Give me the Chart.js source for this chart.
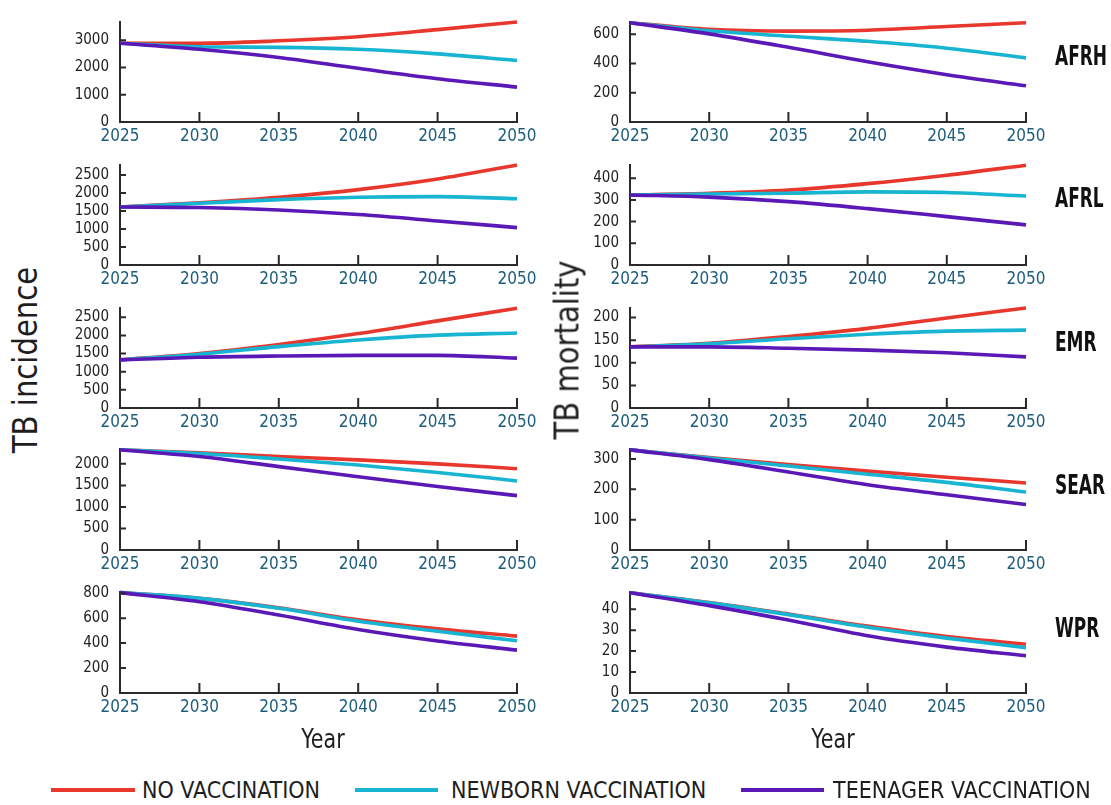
<!DOCTYPE html>
<html>
<head>
<meta charset="utf-8">
<script src="https://cdn.jsdelivr.net/npm/chart.js@4.4.1/dist/chart.umd.min.js"></script>
<style>
  body { margin: 0; background: #fff; width: 1111px; height: 805px; position: relative; overflow: hidden;
         font-family: 'DejaVu Sans Condensed', 'DejaVu Sans', sans-serif; color: #1e1e1e; }
  canvas { position: absolute; }
  .txt { position: absolute; white-space: nowrap; line-height: 1; }
  .region { font-weight: bold; font-size: 27px; color: #111; transform-origin: 0 50%; transform: translateY(-50%) scaleX(0.7); }
  .axis-title { font-size: 33px; color: #1e1e1e; }
  .rot { transform: translate(-50%, -50%) rotate(-90deg) scaleX(0.98); }
  .year { font-size: 27px; transform: translate(-50%, -50%) scaleX(0.85); }
  .leg-line { position: absolute; height: 4px; }
  .leg-text { font-size: 23px; transform: translateY(-50%); color: #1e1e1e; }
</style>
</head>
<body>
<script>
// years on the x axis
var years = [2025, 2030, 2035, 2040, 2045, 2050];
var scenarios = ["NO VACCINATION", "NEWBORN VACCINATION", "TEENAGER VACCINATION"];
var colors = ["#e8372c", "#17b5d1", "#5a18b6"];
var regions = ["AFRH", "AFRL", "EMR", "SEAR", "WPR"];

// TB incidence (per region: no vacc, newborn, teenager)
var incAFRH = [[2890, 2890, 2980, 3130, 3390, 3670], [2890, 2760, 2740, 2670, 2500, 2260], [2890, 2670, 2370, 1970, 1590, 1280]];
var incAFRL = [[1610, 1728, 1880, 2091, 2386, 2775], [1610, 1712, 1813, 1880, 1897, 1838], [1610, 1594, 1526, 1400, 1223, 1037]];
var incEMR  = [[1325, 1500, 1750, 2050, 2400, 2750], [1325, 1483, 1692, 1875, 2008, 2067], [1325, 1400, 1433, 1450, 1450, 1375]];
var incSEAR = [[2326, 2255, 2170, 2092, 2000, 1887], [2326, 2241, 2113, 1972, 1801, 1603], [2326, 2170, 1936, 1702, 1475, 1262]];
var incWPR  = [[805, 759, 684, 587, 514, 456], [805, 759, 679, 575, 495, 419], [805, 732, 625, 509, 417, 344]];

// TB mortality
var mortAFRH = [[678, 633, 621, 627, 652, 678], [678, 623, 586, 551, 504, 438], [678, 602, 510, 411, 323, 247]];
var mortAFRL = [[323, 330, 345, 375, 414, 460], [323, 327, 331, 337, 334, 318], [323, 313, 292, 260, 223, 185]];
var mortEMR  = [[135, 143, 158, 176, 199, 221], [135, 142, 153, 163, 170, 172], [135, 135, 132, 128, 122, 113]];
var mortSEAR = [[330, 305, 282, 260, 240, 221], [330, 303, 277, 250, 223, 191], [330, 298, 257, 215, 182, 150]];
var mortWPR  = [[47.8, 43.2, 37.7, 31.9, 26.9, 23.3], [47.8, 43.0, 37.4, 31.4, 26.2, 21.6], [47.8, 41.7, 34.8, 27.3, 21.9, 17.8]];

// y axis ranges and tick steps
var incMax  = [3670, 2775, 2755, 2345, 810];
var incStep = [1000, 500, 500, 500, 200];
var mortMax  = [683, 461, 221, 333, 48.2];
var mortStep = [200, 100, 50, 100, 10];

var incidence = [incAFRH, incAFRL, incEMR, incSEAR, incWPR];
var mortality = [mortAFRH, mortAFRL, mortEMR, mortSEAR, mortWPR];

// layout of the plot areas
var rowTop = [12, 155, 298, 439, 582];
var rowBottom = [122, 265, 408, 550, 693];
var colLeft = [119.5, 630];
var colRight = [516, 1026];
var padL = 60, padT = 10, padR = 32, padB = 30;
var FONT = "'DejaVu Sans Condensed', 'DejaVu Sans', sans-serif";

// small tick marks pointing into the plot
var inwardTicks = {
  id: 'inwardTicks',
  afterDatasetsDraw: function (chart) {
    var ctx = chart.ctx, xs = chart.scales.x, ys = chart.scales.y, a = chart.chartArea;
    ctx.save();
    ctx.strokeStyle = '#2a2a2a';
    ctx.lineWidth = 2;
    ctx.beginPath();
    xs.ticks.forEach(function (t) {
      var px = xs.getPixelForValue(t.value);
      ctx.moveTo(px, a.bottom);
      ctx.lineTo(px, a.bottom - 10);
    });
    ys.ticks.forEach(function (t) {
      var py = ys.getPixelForValue(t.value);
      ctx.moveTo(a.left, py);
      ctx.lineTo(a.left + 6, py);
    });
    ctx.stroke();
    ctx.restore();
  }
};

function makePanel(row, col, series, yMax, yStep) {
  var l = colLeft[col], r = colRight[col], t = rowTop[row], b = rowBottom[row];
  var w = Math.round(r - l + padL + padR), h = Math.round(b - t + padT + padB);
  var cv = document.createElement('canvas');
  cv.width = w; cv.height = h;
  cv.style.left = Math.round(l - padL) + 'px';
  cv.style.top = Math.round(t - padT) + 'px';
  cv.style.width = w + 'px'; cv.style.height = h + 'px';
  document.body.appendChild(cv);

  new Chart(cv, {
    type: 'line',
    data: {
      datasets: series.map(function (vals, i) {
        return {
          label: scenarios[i],
          data: years.map(function (y, k) { return { x: y, y: vals[k] }; }),
          borderColor: colors[i],
          borderWidth: 3.6,
          pointRadius: 0,
          cubicInterpolationMode: 'monotone',
          clip: false
        };
      }).reverse()
    },
    options: {
      responsive: false,
      animation: false,
      devicePixelRatio: 1,
      layout: { padding: { top: padT, right: padR, left: 0, bottom: 0 } },
      plugins: { legend: { display: false }, tooltip: { enabled: false } },
      scales: {
        x: {
          type: 'linear', min: 2025, max: 2050,
          grid: { display: false, drawTicks: false, tickLength: 0 },
          border: { color: '#2a2a2a', width: 2 },
          ticks: { stepSize: 5, color: '#1d5d7c', font: { family: FONT, size: 17 }, padding: 4, maxRotation: 0,
                   autoSkip: false, callback: function (v) { return String(v); } },
          afterFit: function (s) { s.height = padB; }
        },
        y: {
          min: 0, max: yMax,
          grid: { display: false, drawTicks: false, tickLength: 0 },
          border: { color: '#2a2a2a', width: 2 },
          ticks: { color: '#222', font: { family: FONT, size: 15 }, padding: 11, autoSkip: false,
                   callback: function (v) { return String(v); } },
          afterBuildTicks: function (s) {
            var list = [];
            for (var v = 0; v <= yMax + 1e-9; v += yStep) list.push({ value: v });
            s.ticks = list;
          },
          afterFit: function (s) { s.width = padL; }
        }
      }
    },
    plugins: [inwardTicks]
  });
}

for (var i = 0; i < regions.length; i++) {
  makePanel(i, 0, incidence[i], incMax[i], incStep[i]);
  makePanel(i, 1, mortality[i], mortMax[i], mortStep[i]);
}

function addText(cls, text, x, y) {
  var d = document.createElement('div');
  d.className = 'txt ' + cls;
  d.textContent = text;
  d.style.left = x + 'px';
  d.style.top = y + 'px';
  document.body.appendChild(d);
  return d;
}

// region names at the right
var regionY = [55, 197, 341, 484, 627];
regions.forEach(function (name, i) {
  addText('region', name, 1055, regionY[i]);
});

// axis titles
addText('axis-title rot', 'TB incidence', 25, 360);
addText('axis-title rot', 'TB mortality', 567, 350);
addText('axis-title year', 'Year', 323, 738);
addText('axis-title year', 'Year', 833, 738);

// legend
var legLine = [[51, 135], [355, 438], [741, 824]];
var legText = [142, 451, 833];
scenarios.forEach(function (s, i) {
  var ln = document.createElement('div');
  ln.className = 'leg-line';
  ln.style.left = legLine[i][0] + 'px';
  ln.style.width = (legLine[i][1] - legLine[i][0]) + 'px';
  ln.style.top = '788px';
  ln.style.background = colors[i];
  document.body.appendChild(ln);
  addText('leg-text', s, legText[i], 790);
});
</script>
</body>
</html>
